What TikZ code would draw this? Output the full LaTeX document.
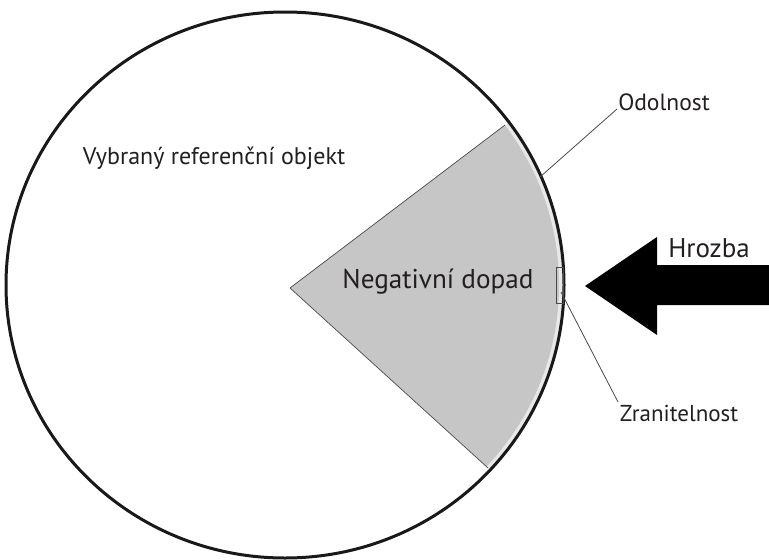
\documentclass[tikz,border=0pt]{standalone}
\usepackage{fontspec}
\setmainfont{PT Sans}
\definecolor{txt}{HTML}{231F20}
\definecolor{sect}{HTML}{C6C6C6}
\definecolor{band}{HTML}{E8E8E8}
\definecolor{thinline}{HTML}{4A4A4A}
\tikzset{
  lbl/.style={text=txt, inner sep=0pt},
  leader/.style={draw=thinline, line width=0.8pt},
  edgeline/.style={draw=thinline, line width=0.7pt},
}
\begin{document}
\begin{tikzpicture}[x=1pt,y=-1pt]
\useasboundingbox (0,0) rectangle (769,560);
\fill[white] (0,0) rectangle (769,560);
\coordinate (C) at (285,285);
\coordinate (apex) at (290,288);
\coordinate (up) at (505,125);
\coordinate (lo) at (488,468);
% light band (Odolnost)
\begin{scope}
  \clip (C) ellipse [x radius=278, y radius=272];
  \fill[band] (apex) -- (720,-38) -- (900,300) -- (686,648) -- cycle;
\end{scope}
% gray sector
\begin{scope}
  \clip (C) ellipse [x radius=274, y radius=268];
  \fill[sect] (apex) -- (720,-38) -- (900,300) -- (686,648) -- cycle;
\end{scope}
\draw[edgeline] (up) -- (apex) -- (lo);
% main circle
\draw[line width=3pt, black!90] (C) ellipse [x radius=279, y radius=273];
% vulnerability rectangle
\node[draw=thinline, line width=0.8pt, minimum width=7pt, minimum height=36pt, inner sep=0pt] (vul) at (559.5,285) {};
% threat arrow
\fill[black] (585,286) -- (657,237) -- (657,265) -- (775,265) -- (775,305) -- (657,305) -- (657,335) -- cycle;
% labels
\node[lbl, font=\fontsize{24}{28}\selectfont] (obj) at (214,158) {Vybraný referenční objekt};
\node[lbl, font=\fontsize{27.2}{31}\selectfont] (neg) at (438,282) {Negativní dopad};
\node[lbl, font=\fontsize{27}{31}\selectfont] (hro) at (709,248) {Hrozba};
\node[lbl, font=\fontsize{23.5}{27}\selectfont] (odo) at (664,102) {Odolnost};
\node[lbl, font=\fontsize{23}{27}\selectfont] (zra) at (679,413) {Zranitelnost};
\coordinate (odoStart) at (617,109);
\coordinate (odoEnd) at (540,177);
\coordinate (zraStart) at (618,402);
\coordinate (zraEnd) at (561,292);
\draw[leader] (odoStart) -- (odoEnd);
\draw[leader] (zraStart) -- (zraEnd);
\end{tikzpicture}
\end{document}
